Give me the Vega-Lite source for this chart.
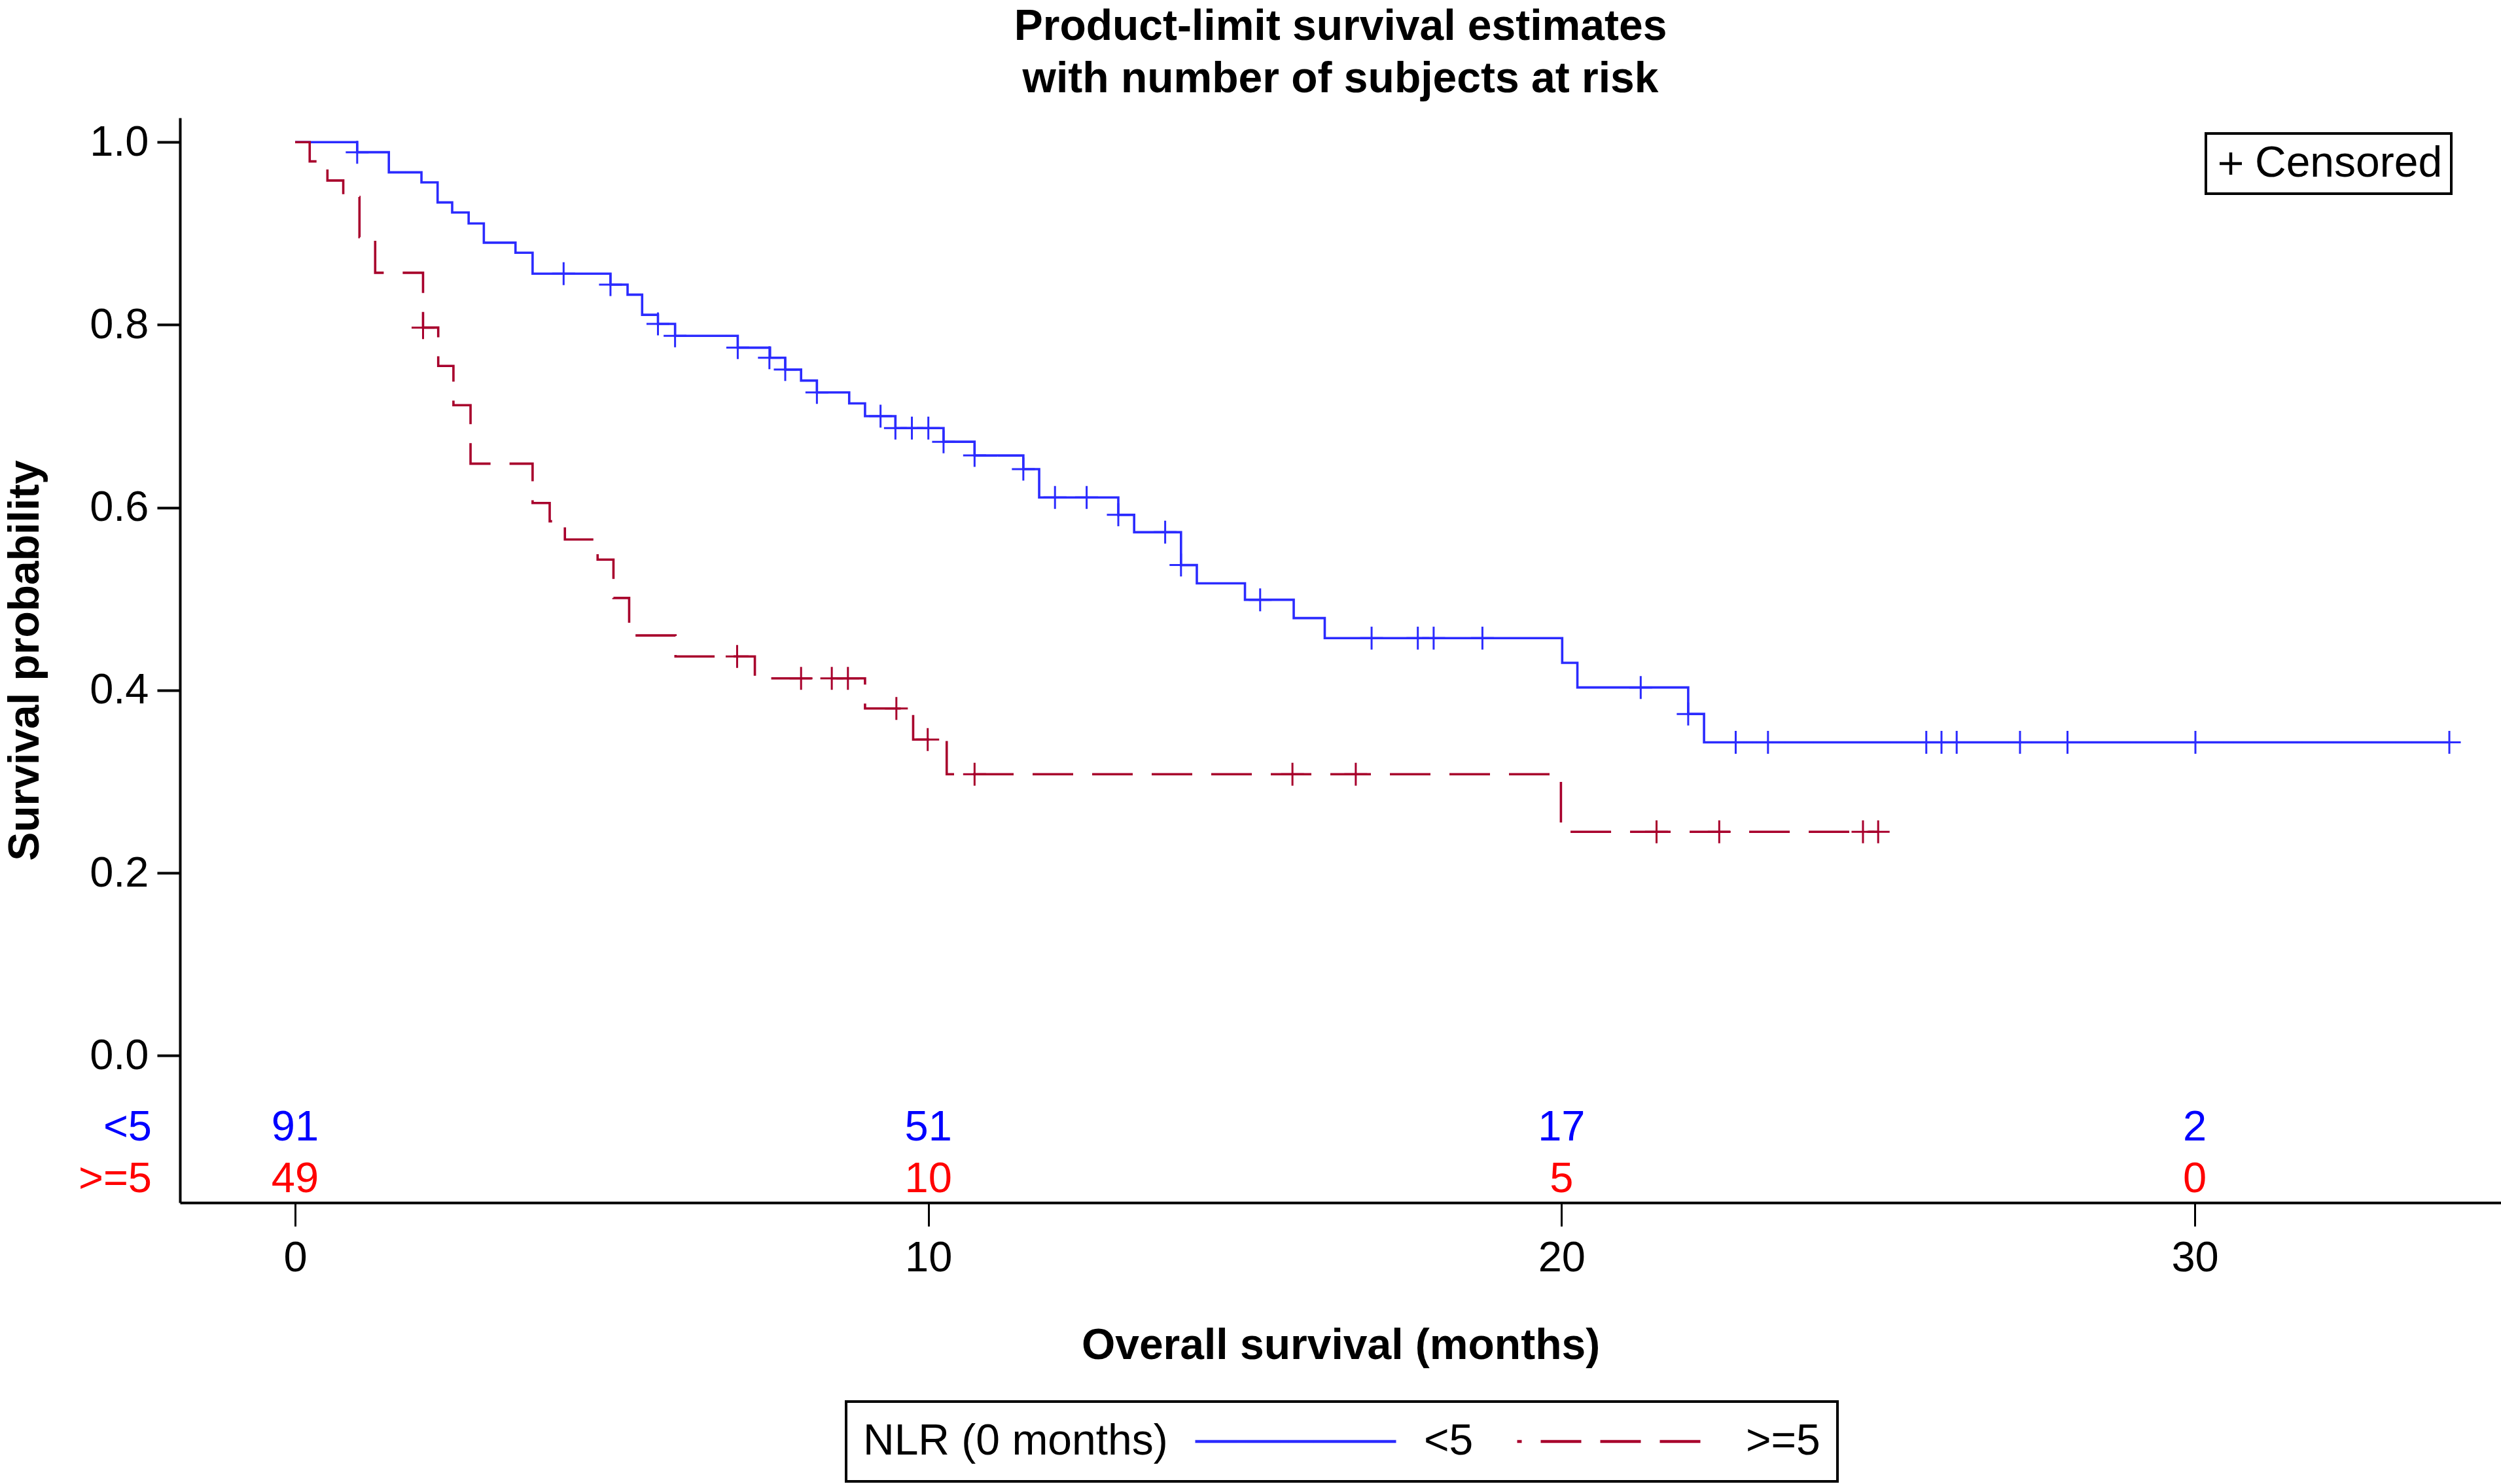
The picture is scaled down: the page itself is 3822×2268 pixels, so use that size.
{
  "$schema": "https://vega.github.io/schema/vega-lite/v6.json",
  "autosize": {"type": "none"},
  "padding": {"left": 275, "top": 180, "right": 0, "bottom": 430},
  "width": 3547,
  "height": 1658,
  "background": "white",
  "title": {
    "text": ["Product-limit survival estimates", "with number of subjects at risk"],
    "font": "Liberation Sans", "fontSize": 66, "fontWeight": "bold", "color": "black",
    "lineHeight": 80, "offset": 25, "anchor": "middle", "frame": "group"
  },
  "datasets": {
    "curve": [
      {"group": "<5", "time": 0, "surv": 1.0},
      {"group": "<5", "time": 0.98, "surv": 0.989},
      {"group": "<5", "time": 1.48, "surv": 0.967},
      {"group": "<5", "time": 1.995, "surv": 0.956},
      {"group": "<5", "time": 2.25, "surv": 0.934},
      {"group": "<5", "time": 2.48, "surv": 0.923},
      {"group": "<5", "time": 2.74, "surv": 0.911},
      {"group": "<5", "time": 2.98, "surv": 0.89},
      {"group": "<5", "time": 3.48, "surv": 0.879},
      {"group": "<5", "time": 3.75, "surv": 0.856},
      {"group": "<5", "time": 4.98, "surv": 0.844},
      {"group": "<5", "time": 5.25, "surv": 0.833},
      {"group": "<5", "time": 5.48, "surv": 0.811},
      {"group": "<5", "time": 5.73, "surv": 0.801},
      {"group": "<5", "time": 6.0, "surv": 0.788},
      {"group": "<5", "time": 6.99, "surv": 0.775},
      {"group": "<5", "time": 7.5, "surv": 0.764},
      {"group": "<5", "time": 7.74, "surv": 0.751},
      {"group": "<5", "time": 7.99, "surv": 0.739},
      {"group": "<5", "time": 8.24, "surv": 0.726},
      {"group": "<5", "time": 8.75, "surv": 0.714},
      {"group": "<5", "time": 9.0, "surv": 0.7},
      {"group": "<5", "time": 9.48, "surv": 0.687},
      {"group": "<5", "time": 10.24, "surv": 0.672},
      {"group": "<5", "time": 10.73, "surv": 0.657},
      {"group": "<5", "time": 11.5, "surv": 0.642},
      {"group": "<5", "time": 11.75, "surv": 0.611},
      {"group": "<5", "time": 13.0, "surv": 0.592},
      {"group": "<5", "time": 13.25, "surv": 0.573},
      {"group": "<5", "time": 13.99, "surv": 0.537},
      {"group": "<5", "time": 14.24, "surv": 0.517},
      {"group": "<5", "time": 15.0, "surv": 0.499},
      {"group": "<5", "time": 15.77, "surv": 0.479},
      {"group": "<5", "time": 16.26, "surv": 0.457},
      {"group": "<5", "time": 20.01, "surv": 0.43},
      {"group": "<5", "time": 20.25, "surv": 0.403},
      {"group": "<5", "time": 22.0, "surv": 0.374},
      {"group": "<5", "time": 22.25, "surv": 0.343},
      {"group": "<5", "time": 34.02, "surv": 0.343},
      {"group": ">=5", "time": 0, "surv": 1.0},
      {"group": ">=5", "time": 0.23, "surv": 0.979},
      {"group": ">=5", "time": 0.51, "surv": 0.958},
      {"group": ">=5", "time": 0.76, "surv": 0.94},
      {"group": ">=5", "time": 1.016, "surv": 0.896},
      {"group": ">=5", "time": 1.264, "surv": 0.857},
      {"group": ">=5", "time": 2.02, "surv": 0.797},
      {"group": ">=5", "time": 2.26, "surv": 0.755},
      {"group": ">=5", "time": 2.5, "surv": 0.712},
      {"group": ">=5", "time": 2.77, "surv": 0.648},
      {"group": ">=5", "time": 3.75, "surv": 0.605},
      {"group": ">=5", "time": 4.02, "surv": 0.585},
      {"group": ">=5", "time": 4.26, "surv": 0.565},
      {"group": ">=5", "time": 4.777, "surv": 0.543},
      {"group": ">=5", "time": 5.027, "surv": 0.501},
      {"group": ">=5", "time": 5.275, "surv": 0.46},
      {"group": ">=5", "time": 6.007, "surv": 0.437},
      {"group": ">=5", "time": 7.26, "surv": 0.413},
      {"group": ">=5", "time": 9.0, "surv": 0.38},
      {"group": ">=5", "time": 9.76, "surv": 0.346},
      {"group": ">=5", "time": 10.29, "surv": 0.308},
      {"group": ">=5", "time": 19.99, "surv": 0.245},
      {"group": ">=5", "time": 25.0, "surv": 0.245}
    ],
    "censor": [
      {"group": "<5", "time": 0.98, "surv": 0.989, "status": "Censored"},
      {"group": "<5", "time": 4.24, "surv": 0.856, "status": "Censored"},
      {"group": "<5", "time": 4.98, "surv": 0.844, "status": "Censored"},
      {"group": "<5", "time": 5.73, "surv": 0.801, "status": "Censored"},
      {"group": "<5", "time": 6.0, "surv": 0.788, "status": "Censored"},
      {"group": "<5", "time": 6.99, "surv": 0.775, "status": "Censored"},
      {"group": "<5", "time": 7.49, "surv": 0.764, "status": "Censored"},
      {"group": "<5", "time": 7.74, "surv": 0.751, "status": "Censored"},
      {"group": "<5", "time": 8.24, "surv": 0.726, "status": "Censored"},
      {"group": "<5", "time": 9.245, "surv": 0.7, "status": "Censored"},
      {"group": "<5", "time": 9.48, "surv": 0.687, "status": "Censored"},
      {"group": "<5", "time": 9.74, "surv": 0.687, "status": "Censored"},
      {"group": "<5", "time": 10.0, "surv": 0.687, "status": "Censored"},
      {"group": "<5", "time": 10.24, "surv": 0.672, "status": "Censored"},
      {"group": "<5", "time": 10.73, "surv": 0.657, "status": "Censored"},
      {"group": "<5", "time": 11.5, "surv": 0.642, "status": "Censored"},
      {"group": "<5", "time": 12.0, "surv": 0.611, "status": "Censored"},
      {"group": "<5", "time": 12.5, "surv": 0.611, "status": "Censored"},
      {"group": "<5", "time": 13.0, "surv": 0.592, "status": "Censored"},
      {"group": "<5", "time": 13.74, "surv": 0.573, "status": "Censored"},
      {"group": "<5", "time": 13.99, "surv": 0.537, "status": "Censored"},
      {"group": "<5", "time": 15.24, "surv": 0.499, "status": "Censored"},
      {"group": "<5", "time": 17.0, "surv": 0.457, "status": "Censored"},
      {"group": "<5", "time": 17.73, "surv": 0.457, "status": "Censored"},
      {"group": "<5", "time": 17.98, "surv": 0.457, "status": "Censored"},
      {"group": "<5", "time": 18.75, "surv": 0.457, "status": "Censored"},
      {"group": "<5", "time": 21.25, "surv": 0.403, "status": "Censored"},
      {"group": "<5", "time": 22.0, "surv": 0.374, "status": "Censored"},
      {"group": "<5", "time": 22.75, "surv": 0.343, "status": "Censored"},
      {"group": "<5", "time": 23.26, "surv": 0.343, "status": "Censored"},
      {"group": "<5", "time": 25.76, "surv": 0.343, "status": "Censored"},
      {"group": "<5", "time": 26.0, "surv": 0.343, "status": "Censored"},
      {"group": "<5", "time": 26.24, "surv": 0.343, "status": "Censored"},
      {"group": "<5", "time": 27.24, "surv": 0.343, "status": "Censored"},
      {"group": "<5", "time": 27.99, "surv": 0.343, "status": "Censored"},
      {"group": "<5", "time": 30.01, "surv": 0.343, "status": "Censored"},
      {"group": "<5", "time": 34.02, "surv": 0.343, "status": "Censored"},
      {"group": ">=5", "time": 2.02, "surv": 0.797, "status": "Censored"},
      {"group": ">=5", "time": 6.98, "surv": 0.437, "status": "Censored"},
      {"group": ">=5", "time": 7.99, "surv": 0.413, "status": "Censored"},
      {"group": ">=5", "time": 8.475, "surv": 0.413, "status": "Censored"},
      {"group": ">=5", "time": 8.73, "surv": 0.413, "status": "Censored"},
      {"group": ">=5", "time": 9.495, "surv": 0.38, "status": "Censored"},
      {"group": ">=5", "time": 9.99, "surv": 0.346, "status": "Censored"},
      {"group": ">=5", "time": 10.73, "surv": 0.308, "status": "Censored"},
      {"group": ">=5", "time": 15.75, "surv": 0.308, "status": "Censored"},
      {"group": ">=5", "time": 16.75, "surv": 0.308, "status": "Censored"},
      {"group": ">=5", "time": 21.5, "surv": 0.245, "status": "Censored"},
      {"group": ">=5", "time": 22.49, "surv": 0.245, "status": "Censored"},
      {"group": ">=5", "time": 24.76, "surv": 0.245, "status": "Censored"},
      {"group": ">=5", "time": 25.0, "surv": 0.245, "status": "Censored"}
    ],
    "riskLow": [
      {"group": "<5", "time": 0, "n": 91},
      {"group": "<5", "time": 10, "n": 51},
      {"group": "<5", "time": 20, "n": 17},
      {"group": "<5", "time": 30, "n": 2}
    ],
    "riskHigh": [
      {"group": ">=5", "time": 0, "n": 49},
      {"group": ">=5", "time": 10, "n": 10},
      {"group": ">=5", "time": 20, "n": 5},
      {"group": ">=5", "time": 30, "n": 0}
    ],
    "labelLow": [{"group": "<5"}],
    "labelHigh": [{"group": ">=5"}]
  },
  "layer": [
    {
      "data": {"name": "curve"},
      "mark": {"type": "line", "interpolate": "step-after", "strokeWidth": 3.6},
      "encoding": {
        "x": {
          "field": "time", "type": "quantitative",
          "scale": {"domain": [-1.819, 34.836], "nice": false, "zero": false},
          "axis": {
            "title": "Overall survival (months)",
            "values": [0, 10, 20, 30],
            "format": "d",
            "tickSize": 36, "tickWidth": 3, "labelPadding": 17, "titlePadding": 69,
            "labelFlush": false
          }
        },
        "y": {
          "field": "surv", "type": "quantitative",
          "scale": {"domain": [-0.161, 1.0267], "nice": false, "zero": false},
          "axis": {
            "title": "Survival probability",
            "values": [0, 0.2, 0.4, 0.6, 0.8, 1.0],
            "format": ".1f",
            "tickSize": 35, "tickWidth": 4, "labelPadding": 13, "titlePadding": 64
          }
        },
        "color": {
          "field": "group", "type": "nominal",
          "scale": {"domain": ["<5", ">=5"], "range": ["#2B2BFF", "#A8002C"]},
          "legend": {
            "orient": "none", "legendX": 1018, "legendY": 1962,
            "direction": "horizontal",
            "title": "NLR (0 months)", "titleOrient": "left", "titleFontWeight": "normal",
            "titleFontSize": 66, "titleBaseline": "middle", "titlePadding": 39,
            "labelFontSize": 66, "labelOffset": 40, "columnPadding": 64,
            "symbolType": "stroke", "symbolSize": 94249, "symbolStrokeWidth": 4.5,
            "symbolDashOffset": 55,
            "clipHeight": 70, "padding": 26, "strokeColor": "black"
          }
        },
        "strokeDash": {
          "field": "group", "type": "nominal",
          "scale": {"domain": ["<5", ">=5"], "range": [[1, 0], [62, 29]]},
          "legend": {
            "orient": "none", "legendX": 1018, "legendY": 1962,
            "direction": "horizontal",
            "title": "NLR (0 months)", "titleOrient": "left", "titleFontWeight": "normal",
            "titleFontSize": 66, "titleBaseline": "middle", "titlePadding": 39,
            "labelFontSize": 66, "labelOffset": 40, "columnPadding": 64,
            "symbolType": "stroke", "symbolSize": 94249, "symbolStrokeWidth": 4.5,
            "symbolDashOffset": 55,
            "clipHeight": 70, "padding": 26, "strokeColor": "black"
          }
        }
      }
    },
    {
      "data": {"name": "censor"},
      "mark": {"type": "point", "filled": false, "strokeWidth": 3, "size": 1225, "opacity": 1},
      "encoding": {
        "x": {"field": "time", "type": "quantitative"},
        "y": {"field": "surv", "type": "quantitative"},
        "stroke": {
          "field": "group", "type": "nominal",
          "scale": {"domain": ["<5", ">=5"], "range": ["#2B2BFF", "#A8002C"]},
          "legend": null
        },
        "shape": {
          "field": "status", "type": "nominal",
          "scale": {"domain": ["Censored"], "range": ["M-1,0L1,0M0,-1L0,1"]},
          "legend": {
            "orient": "none", "legendX": 3096, "legendY": 24,
            "title": null,
            "labelFontSize": 66, "labelOffset": 4,
            "symbolSize": 1156, "symbolStrokeColor": "black", "symbolFillColor": "transparent",
            "symbolStrokeWidth": 4.5, "symbolOffset": -8,
            "padding": 13, "strokeColor": "black"
          }
        }
      }
    },
    {
      "data": {"name": "riskLow"},
      "mark": {"type": "text", "font": "Liberation Sans", "fontSize": 65, "fill": "#0000FF", "align": "center", "baseline": "middle"},
      "encoding": {
        "x": {"field": "time", "type": "quantitative"},
        "y": {"datum": -0.0789, "type": "quantitative"},
        "text": {"field": "n", "type": "nominal"}
      }
    },
    {
      "data": {"name": "riskHigh"},
      "mark": {"type": "text", "font": "Liberation Sans", "fontSize": 65, "fill": "#FF0000", "align": "center", "baseline": "middle"},
      "encoding": {
        "x": {"field": "time", "type": "quantitative"},
        "y": {"datum": -0.1355, "type": "quantitative"},
        "text": {"field": "n", "type": "nominal"}
      }
    },
    {
      "data": {"name": "labelLow"},
      "mark": {"type": "text", "font": "Liberation Sans", "fontSize": 65, "fill": "#0000FF", "align": "right", "baseline": "middle", "dx": -43},
      "encoding": {
        "x": {"datum": -1.819, "type": "quantitative"},
        "y": {"datum": -0.0789, "type": "quantitative"},
        "text": {"field": "group", "type": "nominal"}
      }
    },
    {
      "data": {"name": "labelHigh"},
      "mark": {"type": "text", "font": "Liberation Sans", "fontSize": 65, "fill": "#FF0000", "align": "right", "baseline": "middle", "dx": -43},
      "encoding": {
        "x": {"datum": -1.819, "type": "quantitative"},
        "y": {"datum": -0.1355, "type": "quantitative"},
        "text": {"field": "group", "type": "nominal"}
      }
    }
  ],
  "config": {
    "view": {"stroke": null},
    "font": "Liberation Sans",
    "axis": {
      "grid": false,
      "domainColor": "black", "domainWidth": 4,
      "tickColor": "black",
      "labelFont": "Liberation Sans", "labelFontSize": 65, "labelColor": "black",
      "titleFont": "Liberation Sans", "titleFontSize": 66, "titleFontWeight": "bold", "titleColor": "black"
    },
    "legend": {
      "labelFont": "Liberation Sans", "labelColor": "black",
      "titleFont": "Liberation Sans", "titleColor": "black",
      "strokeWidth": 4, "labelLimit": 1000, "titleLimit": 1000
    }
  }
}
